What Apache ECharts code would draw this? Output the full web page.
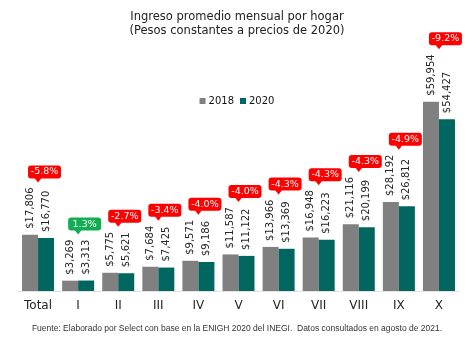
<!DOCTYPE html>
<html>
<head>
<meta charset="utf-8">
<script src="https://cdn.jsdelivr.net/npm/echarts@6/dist/echarts.min.js"></script>
<style>
  html, body { margin: 0; padding: 0; background: #fff; }
  #chart { width: 474px; height: 343px; }
</style>
</head>
<body>
<div id="chart"></div>
<script>
// Deciles of household income, monthly average (constant 2020 pesos)
const categories = ['Total', 'I', 'II', 'III', 'IV', 'V', 'VI', 'VII', 'VIII', 'IX', 'X'];
const income2018 = [17806, 3269, 5775, 7684, 9571, 11587, 13966, 16948, 21116, 28192, 59954];
const income2020 = [16770, 3313, 5621, 7425, 9186, 11122, 13369, 16223, 20199, 26812, 54427];
const changePct = [-5.8, 1.3, -2.7, -3.4, -4.0, -4.0, -4.3, -4.3, -4.3, -4.9, -9.2];

const FONT = '"DejaVu Sans", Verdana, sans-serif';
const GRAY = '#808080';
const TEAL = '#00665f';
const RED = '#ff0000';
const GREEN = '#12ad52';
const LABEL_SIZE = 10;
const LABEL_DIST = 6;

const money = v => '$' + v.toLocaleString('en-US');

// measure rotated value labels so the bubbles sit just above them
const measureCtx = document.createElement('canvas').getContext('2d');
measureCtx.font = LABEL_SIZE + 'px ' + FONT;
const textW = s => measureCtx.measureText(s).width;

const bubbleData = categories.map((c, i) => {
  const top = Math.max(income2018[i], income2020[i]);
  const lw = Math.max(textW(money(income2018[i])), textW(money(income2020[i])));
  return [i, top, changePct[i], lw];
});

const chart = echarts.init(document.getElementById('chart'));

const valueLabel = {
  show: true,
  position: 'top',
  rotate: 90,
  align: 'left',
  verticalAlign: 'middle',
  distance: LABEL_DIST,
  fontFamily: FONT,
  fontSize: LABEL_SIZE,
  color: '#262626',
  formatter: p => money(p.value)
};

chart.setOption({
  animation: false,
  backgroundColor: '#fff',
  title: {
    text: 'Ingreso promedio mensual por hogar\n(Pesos constantes a precios de 2020)',
    left: 'center',
    top: 5,
    textStyle: {
      fontFamily: FONT,
      fontSize: 11.5,
      fontWeight: 'normal',
      color: '#222',
      lineHeight: 14
    }
  },
  legend: {
    data: ['2018', '2020'],
    top: 91,
    left: 'center',
    itemWidth: 6,
    itemHeight: 6,
    itemGap: 6,
    icon: 'rect',
    textStyle: { fontFamily: FONT, fontSize: 10, color: '#111', padding: [0, 0, 0, -2] }
  },
  grid: { left: 18, right: 15, top: 70, bottom: 52 },
  xAxis: {
    type: 'category',
    data: categories,
    axisLine: { lineStyle: { color: '#e3e3e3' } },
    axisTick: { show: false },
    axisLabel: { fontFamily: FONT, fontSize: 12, color: '#262626', margin: 9 }
  },
  yAxis: {
    type: 'value',
    min: 0,
    max: 70000,
    show: false,
    splitLine: { show: false }
  },
  series: [
    {
      name: '2018',
      type: 'bar',
      data: income2018,
      barWidth: 16,
      barGap: '0%',
      itemStyle: { color: GRAY },
      label: valueLabel
    },
    {
      name: '2020',
      type: 'bar',
      data: income2020,
      barWidth: 16,
      barGap: '0%',
      itemStyle: { color: TEAL },
      label: valueLabel
    },
    {
      name: 'cambio',
      type: 'custom',
      data: bubbleData,
      clip: false,
      z: 10,
      renderItem: (params, api) => {
        const pt = api.coord([api.value(0), api.value(1)]);
        const pct = api.value(2);
        const lw = api.value(3);
        const w = 33, h = 13, tip = 4;
        const tipY = pt[1] - LABEL_DIST - lw - 5;
        const boxBottom = tipY - tip;
        const left = pt[0] - 10;
        const cx = pt[0];
        const color = pct >= 0 ? GREEN : RED;
        return {
          type: 'group',
          children: [
            {
              type: 'rect',
              shape: { x: left, y: boxBottom - h, width: w, height: h, r: 3 },
              style: { fill: color }
            },
            {
              type: 'polygon',
              shape: { points: [[cx - 3.5, boxBottom - 0.5], [cx + 3.5, boxBottom - 0.5], [cx, tipY]] },
              style: { fill: color }
            },
            {
              type: 'text',
              style: {
                x: left + w / 2,
                y: boxBottom - h / 2,
                text: pct.toFixed(1) + '%',
                fill: '#fff',
                font: '9.5px ' + FONT,
                align: 'center',
                verticalAlign: 'middle'
              }
            }
          ]
        };
      }
    }
  ],
  graphic: [
    {
      type: 'text',
      left: 'center',
      top: 324,
      style: {
        text: 'Fuente: Elaborado por Select con base en la ENIGH 2020 del INEGI.  Datos consultados en agosto de 2021.',
        font: '8.5px "Liberation Sans", Arial, sans-serif',
        fill: '#333'
      }
    }
  ]
});
</script>
</body>
</html>
